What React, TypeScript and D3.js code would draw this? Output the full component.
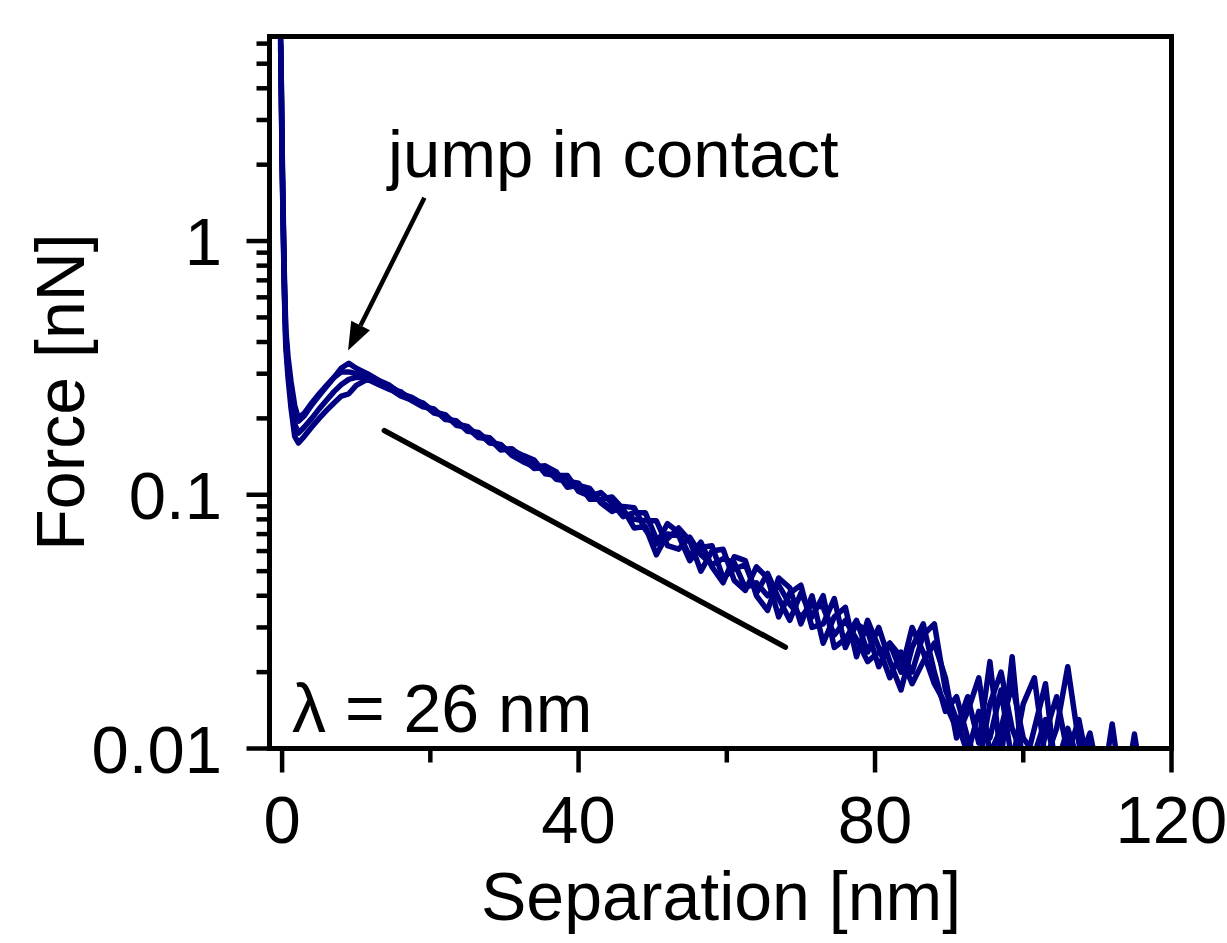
import * as React from 'react';
import * as d3 from 'd3';

const WIDTH = 1227;
const HEIGHT = 943;
const FONT = '"Liberation Sans", Arial, Helvetica, sans-serif';
const NAVY = '#000080';

// separation [nm], shared by all approach curves
const separation = [
  -0.2, -0.1, 0, 0.15, 0.3, 0.5, 0.8, 1.2, 1.7, 2.2, 3, 4, 5, 6, 7, 8, 9, 10,
  11.5, 13, 14.5, 16, 17.5, 19, 20.5, 22, 23.5, 25, 26.5, 28, 29.5, 31, 32.5, 34, 35.5,
  37, 38.5, 40, 41.5, 43, 44.5, 46, 47.5, 49, 50.5, 52, 53.5, 55, 56.5, 58, 59.5, 61,
  62.5, 64, 65.5, 67, 68.5, 70, 71.5, 73, 74.5, 76, 77.5, 79, 80.5, 82, 83.5, 85, 86.5,
  88, 89.5, 91, 92.5, 94, 95.5, 97, 98.5, 100, 101.5, 103, 104.5, 106, 107.5, 109,
  110.5, 112, 113.5, 115, 116.5,
];

// force [nN] for each repeated approach curve
const forceA = [
  6.2, 4.0, 2.2, 1.2, 0.7, 0.42, 0.33, 0.26, 0.215, 0.195, 0.205, 0.226, 0.246, 0.267, 0.29, 0.316, 0.33, 0.315,
  0.3, 0.283, 0.27, 0.25, 0.242, 0.228, 0.21, 0.205, 0.19, 0.186, 0.17, 0.168, 0.152, 0.15,
  0.143, 0.137, 0.121, 0.119, 0.119, 0.103, 0.099, 0.102, 0.093, 0.082, 0.085, 0.085,
  0.067, 0.067, 0.074, 0.066, 0.05, 0.06, 0.061, 0.046, 0.042, 0.052, 0.047, 0.033,
  0.041, 0.044, 0.03, 0.031, 0.039, 0.025, 0.031, 0.029, 0.021, 0.026,
  0.02, 0.03, 0.024, 0.018, 0.015, 0.012, 0.016, 0.0105, 0.022, 0.009, 0.023, 0.008,
  0.012, 0.018, 0.0075, 0.0115, 0.006, 0.0105, 0.0065, 0.0125, 0.006, 0.0114, 0.006,
];
const forceB = [
  5.8, 3.6, 2.0, 1.1, 0.62, 0.38, 0.29, 0.22, 0.17, 0.16, 0.17, 0.185, 0.2, 0.215, 0.23, 0.245, 0.25, 0.27,
  0.285, 0.272, 0.26, 0.255, 0.235, 0.222, 0.218, 0.198, 0.196, 0.178, 0.176, 0.16, 0.158, 0.143,
  0.135, 0.129, 0.13, 0.123, 0.107, 0.109, 0.106, 0.093, 0.086, 0.09, 0.089, 0.073,
  0.064, 0.077, 0.071, 0.057, 0.065, 0.052, 0.045, 0.057, 0.055, 0.04, 0.035, 0.047,
  0.043, 0.031, 0.04, 0.026, 0.033, 0.036, 0.023, 0.032, 0.025, 0.019,
  0.024, 0.02, 0.028, 0.031, 0.017, 0.013, 0.0095, 0.014, 0.011, 0.017, 0.0088, 0.015,
  0.019, 0.009, 0.012, 0.021, 0.0105, 0.008, 0.0098, 0.006, 0.0065, 0.0058, 0.0055,
];
const forceC = [
  6.0, 3.8, 2.1, 1.15, 0.66, 0.4, 0.31, 0.24, 0.19, 0.175, 0.185, 0.2, 0.218, 0.236, 0.255, 0.272, 0.285, 0.29,
  0.29, 0.28, 0.262, 0.245, 0.236, 0.23, 0.212, 0.207, 0.188, 0.184, 0.168, 0.166, 0.15, 0.152,
  0.139, 0.127, 0.128, 0.115, 0.113, 0.111, 0.096, 0.096, 0.098, 0.088, 0.074, 0.075,
  0.058, 0.07, 0.069, 0.055, 0.062, 0.063, 0.047, 0.051, 0.053, 0.041, 0.049, 0.039,
  0.032, 0.041, 0.033, 0.04, 0.025, 0.027, 0.032, 0.024, 0.03, 0.022,
  0.017, 0.025, 0.031, 0.02, 0.014, 0.016, 0.011, 0.0085, 0.015, 0.02, 0.012, 0.0092,
  0.007, 0.0115, 0.016, 0.0095, 0.013, 0.0078, 0.0065, 0.0058, 0.006, 0.0055, 0.005,
];
const forceD = [
  6.3, 4.2, 2.4, 1.3, 0.75, 0.45, 0.35, 0.28, 0.225, 0.2, 0.21, 0.23, 0.25, 0.27, 0.29, 0.305, 0.305, 0.3,
  0.295, 0.276, 0.268, 0.252, 0.24, 0.224, 0.216, 0.2, 0.194, 0.18, 0.175, 0.162, 0.157, 0.145,
  0.138, 0.133, 0.124, 0.121, 0.11, 0.107, 0.103, 0.094, 0.088, 0.086, 0.08, 0.079,
  0.079, 0.063, 0.061, 0.068, 0.058, 0.053, 0.056, 0.054, 0.043, 0.045, 0.04, 0.044,
  0.037, 0.033, 0.037, 0.036, 0.028, 0.032, 0.027, 0.022, 0.024, 0.026,
  0.023, 0.018, 0.022, 0.026, 0.019, 0.011, 0.014, 0.019, 0.0095, 0.012, 0.018, 0.011,
  0.0095, 0.013, 0.0085, 0.012, 0.0088, 0.0115, 0.007, 0.0065, 0.006, 0.0055, 0.005,
];
const curves = [forceA, forceB, forceC, forceD];

// exponential guide line (decay length 26 nm) and annotation arrow, in data units
const fitSeparation = [13.8, 67.9];
const fitForce = [0.179, 0.0251];
const arrowSeparation = [19.2, 8.9];
const arrowForce = [1.48, 0.37];

const xMajorTicks = [0, 40, 80, 120];
const yMajorTicks = [0.01, 0.1, 1];
const yTickLabels = ['0.01', '0.1', '1'];

export default function App() {
  const x = d3.scaleLinear().domain([-1.7, 120]).range([269.5, 1171.5]);
  const y = d3.scaleLog().domain([0.01, 6.4]).range([748.5, 36.5]);
  const [x0, x1] = x.range();
  const [yb, yt] = y.range();

  const line = d3
    .line<number>()
    .x((_, i) => x(separation[i]))
    .y(d => y(d));

  const xTicks = x.ticks(6);
  const yTicks = y.ticks();
  const isDecade = (t: number) => Math.abs(Math.log10(t) - Math.round(Math.log10(t))) < 1e-6;

  // arrow geometry
  const ax0 = x(arrowSeparation[0]);
  const ay0 = y(arrowForce[0]);
  const ax1 = x(arrowSeparation[1]);
  const ay1 = y(arrowForce[1]);
  const ang = Math.atan2(ay1 - ay0, ax1 - ax0);
  const headLen = 28;
  const headHalf = 10.5;
  const bx = ax1 - headLen * Math.cos(ang);
  const by = ay1 - headLen * Math.sin(ang);
  const head = [
    [ax1, ay1],
    [bx + headHalf * Math.sin(ang), by - headHalf * Math.cos(ang)],
    [bx - headHalf * Math.sin(ang), by + headHalf * Math.cos(ang)],
  ]
    .map(p => p.join(','))
    .join(' ');

  return (
    <svg
      width={WIDTH}
      height={HEIGHT}
      style={{ position: 'absolute', left: 0, top: 0, background: '#fff' }}
      fontFamily={FONT}
    >
      <defs>
        <clipPath id="plotClip">
          <rect x={x0} y={yt} width={x1 - x0} height={yb - yt} />
        </clipPath>
      </defs>

      <g clipPath="url(#plotClip)">
        {curves.map((c, i) => (
          <path
            key={i}
            d={line(c) || ''}
            fill="none"
            stroke={NAVY}
            strokeWidth={5.5}
            strokeLinejoin="round"
            strokeLinecap="round"
          />
        ))}
        <line
          x1={x(fitSeparation[0])}
          y1={y(fitForce[0])}
          x2={x(fitSeparation[1])}
          y2={y(fitForce[1])}
          stroke="#000"
          strokeWidth={5.5}
          strokeLinecap="round"
        />
      </g>

      {/* annotation arrow */}
      <line x1={ax0} y1={ay0} x2={bx} y2={by} stroke="#000" strokeWidth={4.5} />
      <polygon points={head} fill="#000" />

      {/* frame */}
      <rect x={x0} y={yt} width={x1 - x0} height={yb - yt} fill="none" stroke="#000" strokeWidth={5} />

      {/* x ticks */}
      {xTicks.map(t => (
        <line
          key={'xt' + t}
          x1={x(t)}
          x2={x(t)}
          y1={yb}
          y2={yb + (xMajorTicks.includes(t) ? 24 : 14)}
          stroke="#000"
          strokeWidth={4.5}
        />
      ))}
      {xMajorTicks.map(t => (
        <text key={'xl' + t} x={x(t)} y={843} fontSize={67} textAnchor="middle">
          {t}
        </text>
      ))}

      {/* y ticks */}
      {yTicks.map(t => (
        <line
          key={'yt' + t}
          x1={x0}
          x2={x0 - (isDecade(t) ? 23 : 13)}
          y1={y(t)}
          y2={y(t)}
          stroke="#000"
          strokeWidth={4.5}
        />
      ))}
      {yMajorTicks.map((t, i) => (
        <text key={'yl' + t} x={222} y={y(t) + 24} fontSize={67} textAnchor="end">
          {yTickLabels[i]}
        </text>
      ))}

      {/* axis titles */}
      <text x={721} y={920} fontSize={68} textAnchor="middle">
        Separation [nm]
      </text>
      <text transform="translate(84,392) rotate(-90)" fontSize={68} textAnchor="middle">
        Force [nN]
      </text>

      {/* annotations */}
      <text x={388} y={177} fontSize={67}>
        jump in contact
      </text>
      <text x={292} y={732} fontSize={68}>
        λ = 26 nm
      </text>
    </svg>
  );
}
